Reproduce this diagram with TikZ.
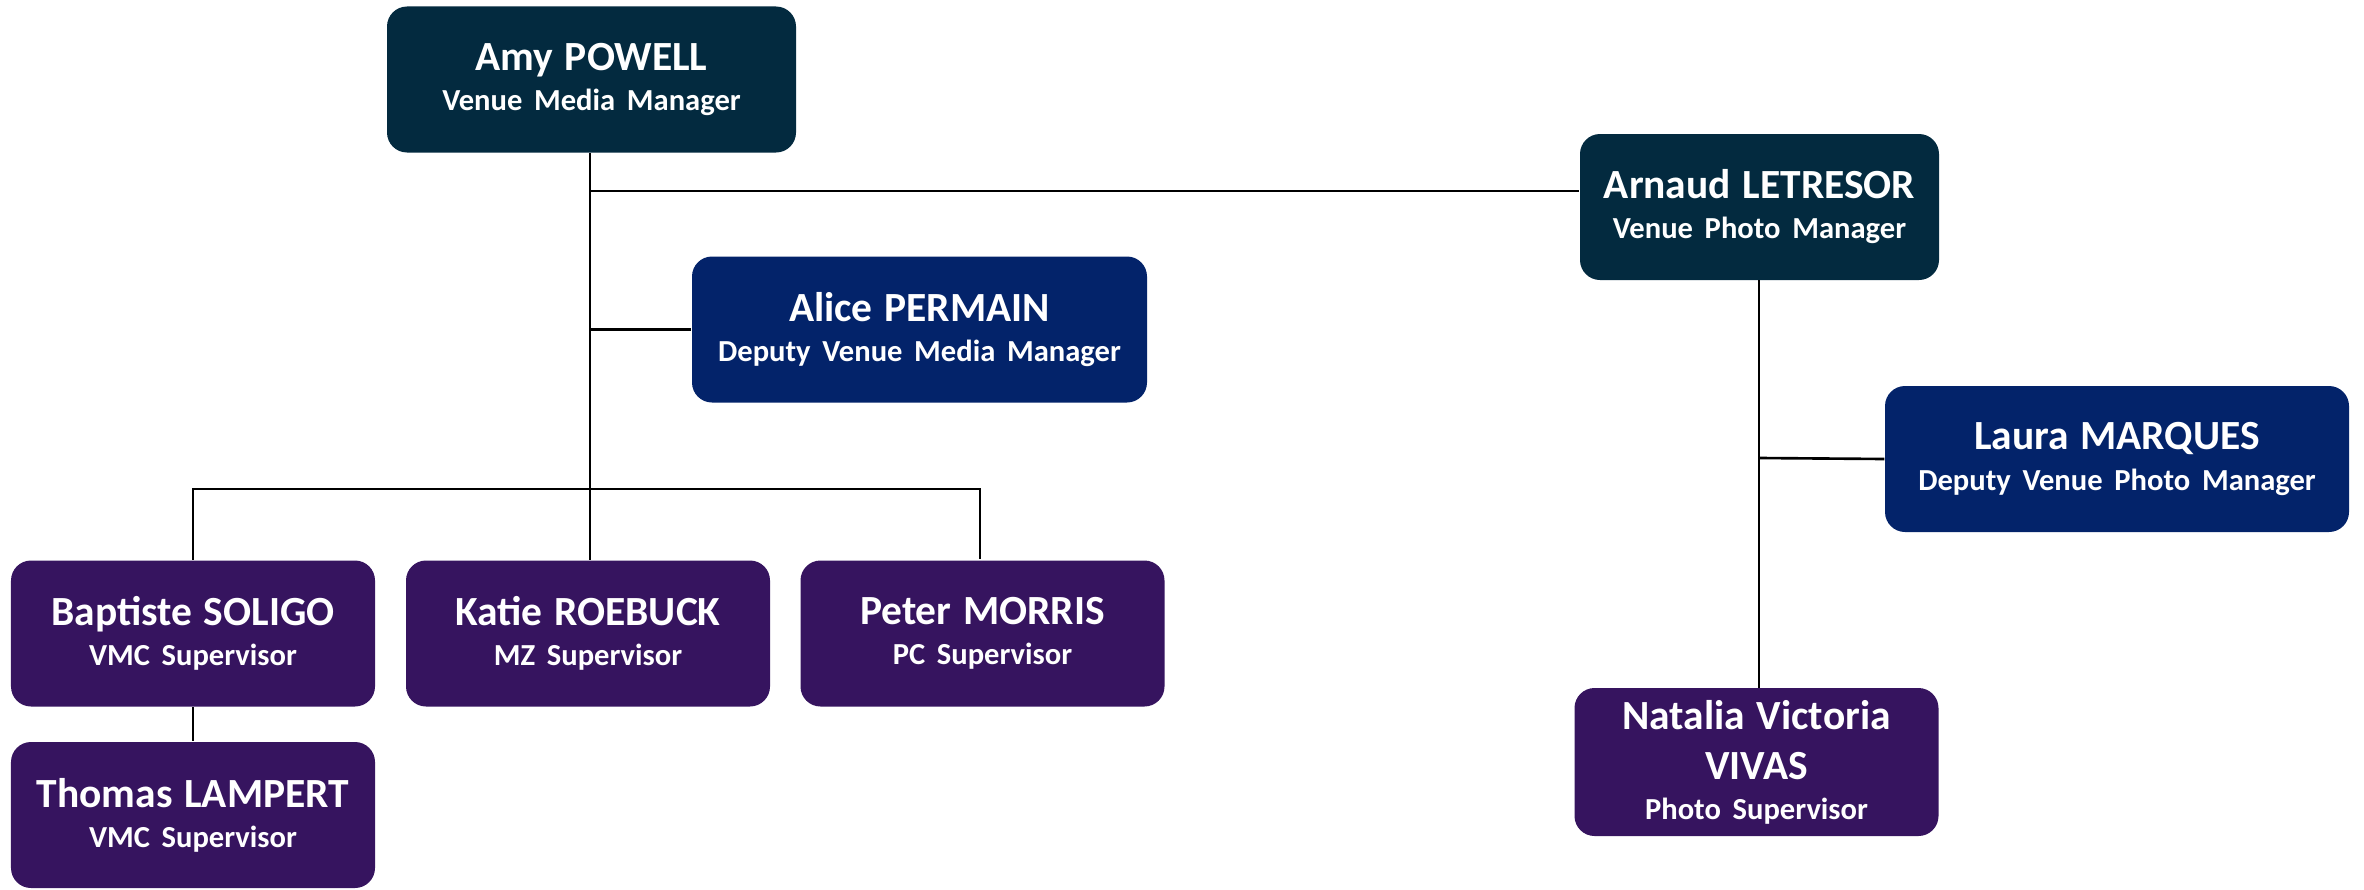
\documentclass[tikz,border=0pt]{standalone}
\usepackage{fontspec}
\setmainfont{Carlito}
\usepackage{tikz}

\definecolor{headcol}{HTML}{032A3F}
\definecolor{deputycol}{HTML}{03236A}
\definecolor{supcol}{HTML}{36145F}

\newcommand{\namefont}{\bfseries\fontsize{11.8}{14.2}\selectfont}
\newcommand{\rolefont}{\bfseries\fontsize{8.7}{11.4}\selectfont}
\newcommand{\person}[2]{{\namefont #1\par}{\rolefont #2\par}}

\begin{document}
\begin{tikzpicture}[
		card/.style={rounded corners=0.2cm, text=white, align=center,
			inner sep=0pt, minimum height=1.46cm},
		headcard/.style={card, fill=headcol},
		deputycard/.style={card, fill=deputycol},
		supcard/.style={card, fill=supcol, minimum width=3.64cm, text width=3.5cm},
		link/.style={line width=0.75pt}
	]
		\useasboundingbox (0,0) rectangle (23.64,-8.89);

		% heads
		\node[headcard, minimum width=4.09cm, text width=4cm] (amy) at (5.915,-0.795)
			{\person{Amy POWELL}{Venue Media Manager}};
		\node[headcard, minimum width=3.59cm, text width=3.5cm] (arnaud) at (17.595,-2.07)
			{\person{Arnaud LETRESOR}{Venue Photo Manager}};

		% deputies
		\node[deputycard, minimum width=4.55cm, text width=4.4cm] (alice) at (9.195,-3.295)
			{\person{Alice PERMAIN}{Deputy Venue Media Manager}};
		\node[deputycard, minimum width=4.64cm, text width=4.5cm] (laura) at (21.17,-4.59)
			{\person{Laura MARQUES}{Deputy Venue Photo Manager}};

		% supervisors
		\node[supcard] (baptiste) at (1.93,-6.335)
			{\person{Baptiste SOLIGO}{VMC Supervisor}};
		\node[supcard] (katie) at (5.88,-6.335)
			{\person{Katie ROEBUCK}{MZ Supervisor}};
		\node[supcard] (peter) at (9.825,-6.335)
			{\person{Peter MORRIS}{PC Supervisor}};
		\node[supcard] (thomas) at (1.93,-8.15)
			{\person{Thomas LAMPERT}{VMC Supervisor}};
		\node[supcard, minimum height=1.48cm] (natalia) at (17.565,-7.62)
			{\person{Natalia Victoria\\VIVAS}{Photo Supervisor}};

		% links
		\coordinate (amyline) at (5.9,-1.9);
		\coordinate (mediabar) at (5.9,-4.89);
		\draw[link] (amy.south -| amyline) -- (mediabar |- katie.north);
		\draw[link] (amyline |- 0,-1.91) -- (arnaud.west |- 0,-1.91);
		\draw[link] (amyline |- alice.west) -- (alice.west);
		\draw[link] (baptiste.north) -- (baptiste.north |- mediabar) -- (9.8,-4.89) -- (9.8,-5.59);
		\draw[link] (baptiste.south) -- (thomas.north);
		\draw[link] (17.59,-2.8) -- (17.59,-6.88);
		\draw[link] (17.59,-4.58) -- (laura.west);
\end{tikzpicture}
\end{document}
